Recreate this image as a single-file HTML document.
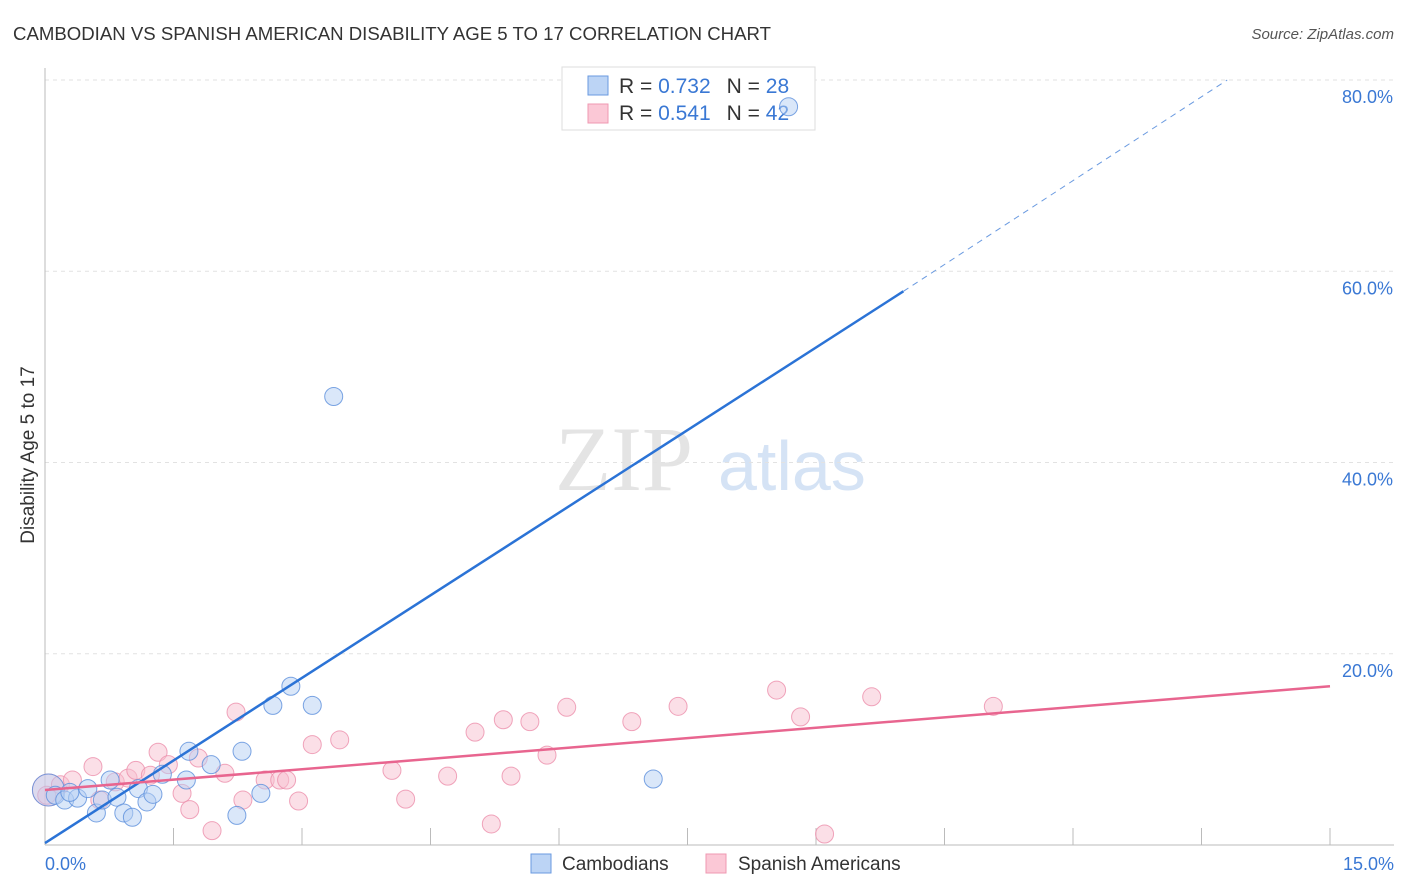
<!DOCTYPE html>
<html><head><meta charset="utf-8">
<style>
body{margin:0;background:#fff;font-family:"Liberation Sans",sans-serif;}
svg{display:block}
</style></head>
<body>
<svg id="chart" width="1406" height="892">
<text x="13" y="40" font-size="18" fill="#333" textLength="758" lengthAdjust="spacingAndGlyphs">CAMBODIAN VS SPANISH AMERICAN DISABILITY AGE 5 TO 17 CORRELATION CHART</text>
<text x="1394" y="39" font-size="15" fill="#555" font-style="italic" text-anchor="end">Source: ZipAtlas.com</text>
<text x="555" y="490" font-size="92" fill="#e4e4e4" font-family="Liberation Serif,serif">ZIP</text>
<text x="718" y="490" font-size="70" fill="#d5e3f5">atlas</text>
<g id="grid"></g>
<g id="axes"></g>
<text transform="translate(34,455) rotate(-90)" font-size="19" fill="#333" text-anchor="middle">Disability Age 5 to 17</text>
<text x="45" y="870" font-size="18" fill="#3a78d4">0.0%</text>
<text x="1394" y="870" font-size="18" fill="#3a78d4" text-anchor="end">15.0%</text>
<g>
<rect x="562" y="67" width="253" height="63" fill="#fff" stroke="#ddd"/>
<rect x="588" y="76" width="20" height="19" fill="#bcd4f5" stroke="#6a9ae0"/>
<rect x="588" y="104" width="20" height="19" fill="#fbc8d6" stroke="#ef98b2"/>
<text x="619" y="93" font-size="21" fill="#333">R = <tspan fill="#3a78d4">0.732</tspan><tspan dx="16">N = </tspan><tspan fill="#3a78d4">28</tspan></text>
<text x="619" y="120" font-size="21" fill="#333">R = <tspan fill="#3a78d4">0.541</tspan><tspan dx="16">N = </tspan><tspan fill="#3a78d4">42</tspan></text>
</g>
<g>
<rect x="531" y="854" width="20" height="19" fill="#bcd4f5" stroke="#6a9ae0"/>
<text x="562" y="870" font-size="19" fill="#333">Cambodians</text>
<rect x="706" y="854" width="20" height="19" fill="#fbc8d6" stroke="#ef98b2"/>
<text x="738" y="870" font-size="19" fill="#333">Spanish Americans</text>
</g>
<g id="marks"></g>
</svg>
<script>
const blueX=[0.04,0.12,0.23,0.38,0.5,0.6,0.67,0.76,0.84,0.92,1.02,1.09,1.19,1.26,1.37,1.65,1.68,1.94,2.24,2.3,2.52,2.66,2.87,3.12,3.37,7.1,8.68,0.29];
const blueY=[5.75,5.2,4.7,4.9,5.9,3.35,4.7,6.8,5.0,3.35,2.9,5.9,4.5,5.3,7.4,6.8,9.8,8.4,3.1,9.8,5.4,14.6,16.6,14.6,46.9,6.9,77.2,5.5];
const pinkX=[0.04,0.02,0.18,0.32,0.56,0.64,0.82,0.97,1.06,1.23,1.32,1.44,1.6,1.69,1.79,1.95,2.1,2.23,2.31,2.57,2.74,2.82,2.96,3.12,3.44,4.05,4.21,4.7,5.02,5.21,5.35,5.44,5.66,5.86,6.09,6.85,7.39,8.54,8.82,9.1,9.65,11.07];
const pinkY=[5.75,5.2,6.3,6.8,8.2,4.7,6.6,7.0,7.8,7.3,9.7,8.4,5.4,3.7,9.1,1.5,7.5,13.9,4.7,6.8,6.8,6.8,4.6,10.5,11.0,7.8,4.8,7.2,11.8,2.2,13.1,7.2,12.9,9.4,14.4,12.9,14.5,16.2,13.4,1.15,15.5,14.5];
const blueLine=[0,0.2,10.02,57.9,13.8,80];
const pinkLine=[0,5.75,15,16.6];
const yTicks=[20,40,60,80];
const xTicks=[0,1.5,3,4.5,6,7.5,9,10.5,12,13.5,15];
const X0=45,X1=1330,Y0=845,Y80=80;
const sx=v=>X0+(X1-X0)*v/15;
const sy=v=>Y0-(Y0-Y80)*v/80;
const NS="http://www.w3.org/2000/svg";
function mk(tag,attrs,parent){const e=document.createElementNS(NS,tag);for(const k in attrs)e.setAttribute(k,attrs[k]);parent.appendChild(e);return e;}
const grid=document.getElementById('grid'),axes=document.getElementById('axes'),marks=document.getElementById('marks');
yTicks.forEach(t=>{
 const l=mk('line',{x1:45,x2:1394,y1:sy(t),y2:sy(t),stroke:'#e2e2e2','stroke-dasharray':'4,4'},grid);
 
 
 const tx=mk('text',{x:1393,y:sy(t)+23,'font-size':18,fill:'#3a78d4','text-anchor':'end'},grid);
 tx.textContent=t.toFixed(1)+'%';
 
 
});
const ya=mk('line',{x1:45,x2:45,y1:68,y2:845,stroke:'#bbb'},axes);


const xa=mk('line',{x1:45,x2:1394,y1:845,y2:845,stroke:'#bbb'},axes);


xTicks.forEach((t,i)=>{if(i==0)return;
 const l=mk('line',{x1:sx(t),x2:sx(t),y1:828,y2:845,stroke:'#bbb'},axes);
 
 
});
function pts(xs,ys,fill,stroke,name){
 xs.forEach((x,i)=>{
  const r=(i===0)?16:9;
  const c=mk('circle',{cx:sx(x),cy:sy(ys[i]),r:r,fill:fill,'fill-opacity':i===0?0.45:0.5,stroke:stroke,'stroke-opacity':0.8,'stroke-width':1},marks);
  
  
 });
}
pts(pinkX,pinkY,'#f8c0d0','#ec8fab','spanish-american-point');
pts(blueX,blueY,'#b5cff3','#5b8fdc','cambodian-point');
const bl=mk('line',{x1:sx(blueLine[0]),y1:sy(blueLine[1]),x2:sx(blueLine[2]),y2:sy(blueLine[3]),stroke:'#2b73d6','stroke-width':2.5},marks);


const bd=mk('line',{x1:sx(blueLine[2]),y1:sy(blueLine[3]),x2:sx(blueLine[4]),y2:sy(blueLine[5]),stroke:'#6a9ae0','stroke-width':1,'stroke-dasharray':'6,5'},marks);


const pl=mk('line',{x1:sx(pinkLine[0]),y1:sy(pinkLine[1]),x2:sx(pinkLine[2]),y2:sy(pinkLine[3]),stroke:'#e8658f','stroke-width':2.5},marks);


</script>
</body></html>
